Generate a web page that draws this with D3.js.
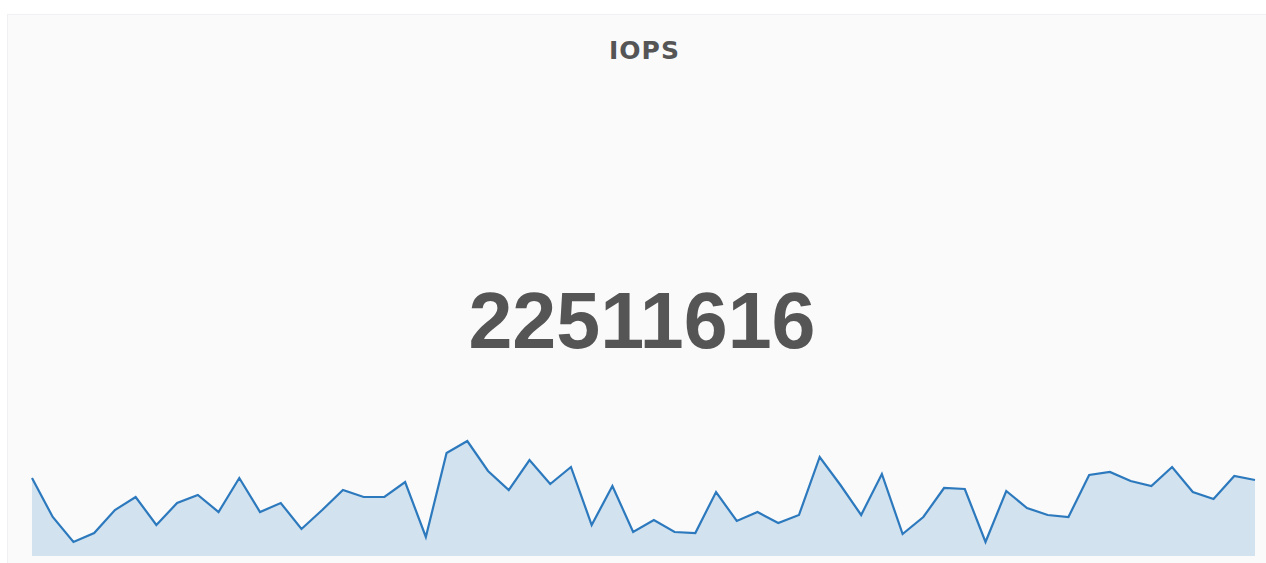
<!DOCTYPE html>
<html>
<head>
<meta charset="utf-8">
<script src="https://cdn.jsdelivr.net/npm/d3@7"></script>
<style>
  body { margin: 0; background: #ffffff; }
  svg { display: block; font-family: "Liberation Sans", Arial, sans-serif; }
</style>
</head>
<body>
<div id="container"></div>
<script>
/* CONSTANTS AND GLOBALS */
const width = 1266;
const height = 563;

const title = "IOPS";
const currentValue = "22511616";

// sparkline samples (arbitrary units)
const iops = [
  78, 39, 14, 23, 46, 59, 31, 53, 61, 44,
  78, 44, 53, 27, 46, 66, 59, 59, 74, 19,
  103, 115, 85, 66, 96, 72, 89, 31, 70, 24,
  36, 24, 23, 64, 35, 44, 33, 41, 99, 71,
  41, 82, 22, 39, 68, 67, 14, 65, 48, 41,
  39, 81, 84, 75, 70, 89, 64, 57, 80, 76
];
const yDomain = [0, 120];

const svg = d3.select("#container")
  .append("svg")
  .attr("width", width)
  .attr("height", height);

// panel
svg.append("rect")
  .attr("x", 7.5)
  .attr("y", 14.5)
  .attr("width", width)
  .attr("height", height)
  .attr("fill", "#fafafa")
  .attr("stroke", "#efeff4")
  .attr("stroke-width", 1);

/* SCALES */
const xScale = d3.scaleLinear()
  .domain([0, iops.length - 1])
  .range([32, 1255]);

const yScale = d3.scaleLinear()
  .domain(yDomain)
  .range([556, 436]);

// area + line
const area = d3.area()
  .x((d, i) => xScale(i))
  .y0(yScale(0))
  .y1(d => yScale(d));

const line = d3.line()
  .x((d, i) => xScale(i))
  .y(d => yScale(d));

svg.append("path")
  .datum(iops)
  .attr("d", area)
  .attr("fill", "rgba(31,118,189,0.18)");

svg.append("path")
  .datum(iops)
  .attr("d", line)
  .attr("fill", "none")
  .attr("stroke", "#2c79bd")
  .attr("stroke-width", 2.2);

// texts
svg.append("text")
  .attr("x", 644.5)
  .attr("y", 59)
  .attr("text-anchor", "middle")
  .style("font-family", "'DejaVu Sans', sans-serif")
  .style("font-size", "25px")
  .style("font-weight", "bold")
  .style("letter-spacing", "1px")
  .style("fill", "#555555")
  .text(title);

svg.append("text")
  .attr("x", 642)
  .attr("y", 348)
  .attr("text-anchor", "middle")
  .style("font-size", "79px")
  .style("font-weight", "bold")
  .style("fill", "#555555")
  .text(currentValue);
</script>
</body>
</html>
